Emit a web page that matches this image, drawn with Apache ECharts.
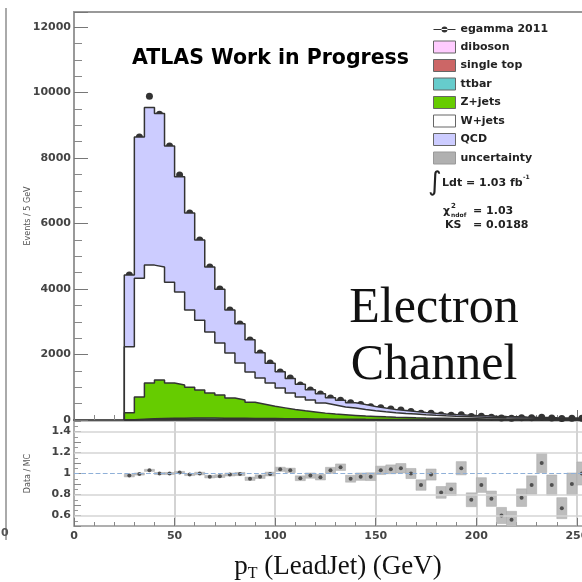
<!DOCTYPE html>
<html>
<head>
<meta charset="utf-8">
<style>
  html, body { margin: 0; padding: 0; background: #fff; }
  #chart { width: 582px; height: 582px; }
</style>
<script src="https://cdn.jsdelivr.net/npm/echarts@6/dist/echarts.min.js"></script>
</head>
<body>
<div id="chart"></div>
<script>
// bin lower edges (GeV), bins are 5 GeV wide
const binLow = [25, 30, 35, 40, 45, 50, 55, 60, 65, 70, 75, 80, 85, 90, 95, 100, 105, 110, 115, 120,
  125, 130, 135, 140, 145, 150, 155, 160, 165, 170, 175, 180, 185, 190, 195, 200, 205, 210, 215, 220,
  225, 230, 235, 240, 245, 250];
const binWidth = 5;

// MC components, stacked bottom -> top
const diboson = [2, 4, 6, 7, 8, 8, 8, 8, 8, 7, 7, 7, 6, 6, 6, 5, 5, 5, 4, 4, 4, 4, 3, 3, 3, 3, 3, 2, 2, 2,
  2, 2, 2, 2, 2, 1, 1, 1, 1, 1, 1, 1, 1, 1, 1, 1];
const singleTop = [3, 6, 9, 11, 12, 12, 12, 12, 11, 11, 10, 10, 9, 9, 8, 8, 7, 7, 6, 6, 5, 5, 5, 4, 4, 4, 3, 3, 3, 3,
  3, 2, 2, 2, 2, 2, 2, 2, 1, 1, 1, 1, 1, 1, 1, 1];
const ttbar = [6, 14, 22, 28, 33, 36, 38, 39, 39, 38, 37, 35, 33, 31, 29, 27, 25, 23, 21, 19, 17, 16, 15, 13, 12, 11, 10, 9, 8, 8,
  7, 6, 6, 5, 5, 5, 4, 4, 4, 3, 3, 3, 3, 2, 2, 2];
const zjets = [209, 676, 1093, 1174, 1077, 1014, 942, 856, 767, 704, 616, 558, 492, 434, 377, 330, 283, 245, 214, 181,
  154, 135, 117, 100, 89, 78, 70, 63, 56, 49, 44, 41, 36, 33, 29, 26, 24, 21, 20, 19, 17, 15, 13, 13, 12, 11];
const wjets = [2020, 3630, 3600, 3450, 3080, 2840, 2360, 2135, 1865, 1590, 1375, 1130, 925, 800, 710, 605, 505, 420, 365, 310,
  280, 240, 225, 200, 177, 156, 136, 123, 111, 98, 87, 77, 69, 62, 56, 51, 46, 42, 38, 34, 31, 28, 26, 23, 21, 19];
const qcd = [2190, 4310, 4816, 4694, 4155, 3520, 2960, 2445, 1980, 1640, 1315, 1200, 985, 770, 600, 495, 445, 390, 310, 280,
  220, 200, 165, 150, 130, 113, 98, 90, 78, 72, 64, 58, 53, 48, 44, 41, 38, 35, 32, 30, 28, 27, 25, 24, 22, 21];

// egamma 2011 data
const egamma = [4430, 8640, 9890, 9340, 8365, 7480, 6320, 5495, 4670, 4000, 3360, 2930, 2440, 2045, 1740, 1465, 1280, 1070, 915, 795,
  670, 600, 530, 470, 403, 376, 333, 305, 258, 206, 205, 153, 143, 160, 104, 112, 87, 63, 54, 68, 72, 82, 61, 43, 53, 55];

// data / MC ratio and its uncertainty (half height)
const ratio = [0.98, 0.995, 1.03, 1.0, 1.0, 1.01, 0.99, 1.0, 0.97, 0.975, 0.99, 0.995, 0.95, 0.97, 0.995, 1.04, 1.03, 0.955, 0.98, 0.965,
  1.03, 1.06, 0.95, 0.97, 0.97, 1.03, 1.04, 1.05, 1.0, 0.89, 0.99, 0.82, 0.85, 1.05, 0.75, 0.89, 0.76, 0.6, 0.56, 0.77,
  0.89, 1.1, 0.89, 0.67, 0.9, 1.0];
const ratioErr = [0.012, 0.01, 0.01, 0.01, 0.01, 0.01, 0.01, 0.012, 0.012, 0.013, 0.014, 0.015, 0.016, 0.017, 0.018, 0.02, 0.021, 0.023, 0.025, 0.027,
  0.029, 0.031, 0.033, 0.035, 0.037, 0.04, 0.042, 0.045, 0.048, 0.05, 0.053, 0.056, 0.06, 0.063, 0.066, 0.07, 0.073, 0.077, 0.08, 0.084,
  0.088, 0.092, 0.096, 0.1, 0.105, 0.11];

const ratioLabels = [0.6, 0.8, 1, 1.2, 1.4];
const ratioGrid = [0.6, 0.8, 1.2, 1.4];

const stackDefs = [
  { name: "diboson", vals: diboson, color: "#ffccff" },
  { name: "single top", vals: singleTop, color: "#cc6666" },
  { name: "ttbar", vals: ttbar, color: "#66cccc" },
  { name: "Z+jets", vals: zjets, color: "#66cc00" },
  { name: "W+jets", vals: wjets, color: "#ffffff" },
  { name: "QCD", vals: qcd, color: "#ccccff" },
];

// cumulative sums
let running = binLow.map(() => 0);
stackDefs.forEach((s) => {
  running = running.map((r, i) => r + s.vals[i]);
  s.cum = running.slice();
});

function stepPoints(vals) {
  const pts = [[binLow[0], 0]];
  vals.forEach((v, i) => pts.push([binLow[i], v]));
  pts.push([binLow[binLow.length - 1] + binWidth, vals[vals.length - 1]]);
  return pts;
}

const labelFont = { fontFamily: "DejaVu Sans", fontWeight: "bold", fontSize: 11, color: "#444" };

// biggest stack drawn first so the smaller ones paint over it
const stackSeries = stackDefs.slice().reverse().map((s) => ({
  name: s.name,
  type: "line",
  xAxisIndex: 0,
  yAxisIndex: 0,
  step: "end",
  symbol: "none",
  silent: true,
  data: stepPoints(s.cum),
  lineStyle: { color: "#333", width: 1.5 },
  areaStyle: { color: s.color, opacity: 1 },
}));

const chart = echarts.init(document.getElementById("chart"));
chart.setOption({
  animation: false,
  backgroundColor: "#fff",
  title: [
    {
      text: "ATLAS Work in Progress",
      left: 132,
      top: 48,
      padding: 0,
      textStyle: { fontFamily: "DejaVu Sans", fontWeight: "bold", fontSize: 20.5, color: "#000" },
    },
  ],
  legend: {
    orient: "vertical",
    left: 433,
    top: 24,
    padding: 0,
    itemWidth: 22,
    itemHeight: 12,
    itemGap: 5.5,
    selectedMode: false,
    textStyle: { fontFamily: "DejaVu Sans", fontWeight: "bold", fontSize: 11, color: "#222" },
    data: [
      { name: "egamma 2011", icon: "path://M0,5.5L22,5.5L22,6.5L0,6.5Z M8,6A3,3,0,1,0,14,6A3,3,0,1,0,8,6Z", itemStyle: { color: "#000" } },
      { name: "diboson", icon: "rect", itemStyle: { color: "#ffccff", borderColor: "#666", borderWidth: 1 } },
      { name: "single top", icon: "rect", itemStyle: { color: "#cc6666", borderColor: "#666", borderWidth: 1 } },
      { name: "ttbar", icon: "rect", itemStyle: { color: "#66cccc", borderColor: "#666", borderWidth: 1 } },
      { name: "Z+jets", icon: "rect", itemStyle: { color: "#66cc00", borderColor: "#666", borderWidth: 1 } },
      { name: "W+jets", icon: "rect", itemStyle: { color: "#ffffff", borderColor: "#666", borderWidth: 1 } },
      { name: "QCD", icon: "rect", itemStyle: { color: "#ccccff", borderColor: "#666", borderWidth: 1 } },
      { name: "uncertainty", icon: "rect", itemStyle: { color: "#b0b0b0", borderColor: "#999", borderWidth: 1 } },
    ],
  },
  grid: [
    { left: 74, width: 518, top: 12, height: 408, outerBoundsMode: "none", show: true, borderColor: "#999", borderWidth: 2 },
    { left: 74, width: 518, top: 421, height: 105, outerBoundsMode: "none", show: true, borderColor: "#aaa", borderWidth: 1.5 },
  ],
  xAxis: [
    {
      gridIndex: 0,
      type: "value",
      min: 0,
      max: 257.5,
      interval: 50,
      axisLine: { show: true, onZero: false, lineStyle: { color: "#555", width: 2 } },
      axisTick: { inside: true, length: 10, lineStyle: { color: "#777" } },
      minorTick: { show: true, splitNumber: 5, length: 5, lineStyle: { color: "#888" } },
      axisLabel: { show: false },
      splitLine: { show: false },
    },
    {
      gridIndex: 1,
      type: "value",
      min: 0,
      max: 257.5,
      interval: 50,
      axisLine: { show: true, onZero: false, lineStyle: { color: "#aaa", width: 1.5 } },
      axisTick: { inside: true, length: 8, lineStyle: { color: "#777" } },
      minorTick: { show: true, splitNumber: 5, length: 4, lineStyle: { color: "#888" } },
      axisLabel: Object.assign({ margin: 5, formatter: (v) => (v % 50 === 0 ? String(v) : "") }, labelFont),
      splitLine: { show: true, lineStyle: { color: "#c4c4c4", width: 1.5 } },
      name: "{a|p}{b|T}{a| (LeadJet) (GeV)}",
      nameLocation: "middle",
      nameGap: 26,
      nameMoveOverlap: false,
      nameTextStyle: {
        padding: [0, 0, 0, 10],
        rich: {
          a: { fontFamily: "Liberation Serif", fontSize: 27, color: "#111", lineHeight: 30, verticalAlign: "middle" },
          b: { fontFamily: "Liberation Serif", fontSize: 16, color: "#111", lineHeight: 16, verticalAlign: "bottom" },
        },
      },
    },
  ],
  yAxis: [
    {
      gridIndex: 0,
      type: "value",
      min: 0,
      max: 12460,
      interval: 2000,
      axisLine: { show: true, lineStyle: { color: "#999", width: 2 } },
      axisTick: { inside: true, length: 14, lineStyle: { color: "#777" } },
      minorTick: { show: true, splitNumber: 4, length: 8, lineStyle: { color: "#888" } },
      axisLabel: Object.assign({ margin: 3, formatter: (v) => (v % 2000 === 0 ? String(v) : "") }, labelFont),
      splitLine: { show: false },
      name: "Events / 5 GeV",
      nameLocation: "middle",
      nameGap: 42,
      nameMoveOverlap: false,
      nameTextStyle: { fontFamily: "DejaVu Sans", fontSize: 8, color: "#555" },
    },
    {
      gridIndex: 1,
      type: "value",
      min: 0.5,
      max: 1.5,
      interval: 0.1,
      axisLine: { show: true, lineStyle: { color: "#aaa", width: 1.5 } },
      axisTick: { inside: true, length: 7, lineStyle: { color: "#888" } },
      minorTick: { show: true, splitNumber: 2, length: 4, lineStyle: { color: "#999" } },
      axisLabel: Object.assign({
        margin: 3,
        formatter: (v) => (ratioLabels.some((t) => Math.abs(t - v) < 1e-6) ? String(+v.toFixed(1)) : ""),
      }, labelFont),
      splitLine: { show: false },
      name: "Data / MC",
      nameLocation: "middle",
      nameGap: 42,
      nameMoveOverlap: false,
      nameTextStyle: { fontFamily: "DejaVu Sans", fontSize: 8, color: "#555" },
    },
  ],
  series: stackSeries.concat([
    {
      name: "egamma 2011",
      type: "scatter",
      xAxisIndex: 0,
      yAxisIndex: 0,
      symbolSize: 7,
      itemStyle: { color: "#000" },
      data: binLow.map((x, i) => [x + binWidth / 2, egamma[i]]),
    },
    {
      name: "grid",
      type: "line",
      xAxisIndex: 1,
      yAxisIndex: 1,
      data: [],
      markLine: {
        silent: true,
        symbol: "none",
        label: { show: false },
        data: ratioGrid.map((v) => ({ yAxis: v, lineStyle: { color: "#d4d4d4", width: 1.5, type: "solid" } }))
          .concat([{ yAxis: 1, lineStyle: { color: "#8fb0d8", width: 1.2, type: "dashed" } }]),
      },
    },
    {
      name: "uncertainty",
      type: "custom",
      xAxisIndex: 1,
      yAxisIndex: 1,
      clip: true,
      data: binLow.map((x, i) => [x, x + binWidth, ratio[i] - ratioErr[i], ratio[i] + ratioErr[i]]),
      encode: { x: [0, 1], y: [2, 3] },
      renderItem: function (params, api) {
        const p0 = api.coord([api.value(0), api.value(3)]);
        const p1 = api.coord([api.value(1), api.value(2)]);
        return {
          type: "rect",
          shape: { x: p0[0], y: p0[1], width: p1[0] - p0[0], height: p1[1] - p0[1] },
          style: { fill: "#bdbdbd", stroke: "#a8a8a8", lineWidth: 0.5 },
        };
      },
      itemStyle: { color: "#b0b0b0" },
    },
    {
      name: "ratio",
      type: "scatter",
      xAxisIndex: 1,
      yAxisIndex: 1,
      symbolSize: 4,
      itemStyle: { color: "#333" },
      data: binLow.map((x, i) => [x + binWidth / 2, ratio[i]]),
    },
  ]),
  graphic: [
    { type: "line", shape: { x1: 6, y1: 8, x2: 6, y2: 540 }, style: { stroke: "#aaa", lineWidth: 2 } },
    { type: "text", x: 1, y: 533, style: { text: "0", font: "bold 11px 'DejaVu Sans'", fill: "#555", verticalAlign: "middle" } },
    { type: "text", x: 428, y: 183, style: { text: "∫", font: "26px 'DejaVu Sans'", fill: "#222", verticalAlign: "middle" } },
    { type: "text", x: 442, y: 183, style: { text: "Ldt = 1.03 fb", font: "bold 11px 'DejaVu Sans'", fill: "#222", verticalAlign: "middle" } },
    { type: "text", x: 523, y: 177, style: { text: "-1", font: "bold 6px 'DejaVu Sans'", fill: "#222", verticalAlign: "middle" } },
    { type: "text", x: 443, y: 211, style: { text: "χ", font: "bold 11px 'DejaVu Sans'", fill: "#222", verticalAlign: "middle" } },
    { type: "text", x: 451, y: 206, style: { text: "2", font: "bold 7px 'DejaVu Sans'", fill: "#222", verticalAlign: "middle" } },
    { type: "text", x: 451, y: 215, style: { text: "ndof", font: "bold 6px 'DejaVu Sans'", fill: "#222", verticalAlign: "middle" } },
    { type: "text", x: 473, y: 211, style: { text: "= 1.03", font: "bold 11px 'DejaVu Sans'", fill: "#222", verticalAlign: "middle" } },
    { type: "text", x: 445, y: 225, style: { text: "KS", font: "bold 11px 'DejaVu Sans'", fill: "#222", verticalAlign: "middle" } },
    { type: "text", x: 473, y: 225, style: { text: "= 0.0188", font: "bold 11px 'DejaVu Sans'", fill: "#222", verticalAlign: "middle" } },
    {
      type: "text", x: 434, y: 309,
      style: { text: "Electron", font: "50px 'Liberation Serif'", fill: "#111", align: "center", verticalAlign: "middle" },
    },
    {
      type: "text", x: 434, y: 366,
      style: { text: "Channel", font: "50px 'Liberation Serif'", fill: "#111", align: "center", verticalAlign: "middle" },
    },
  ],
});
</script>
</body>
</html>
